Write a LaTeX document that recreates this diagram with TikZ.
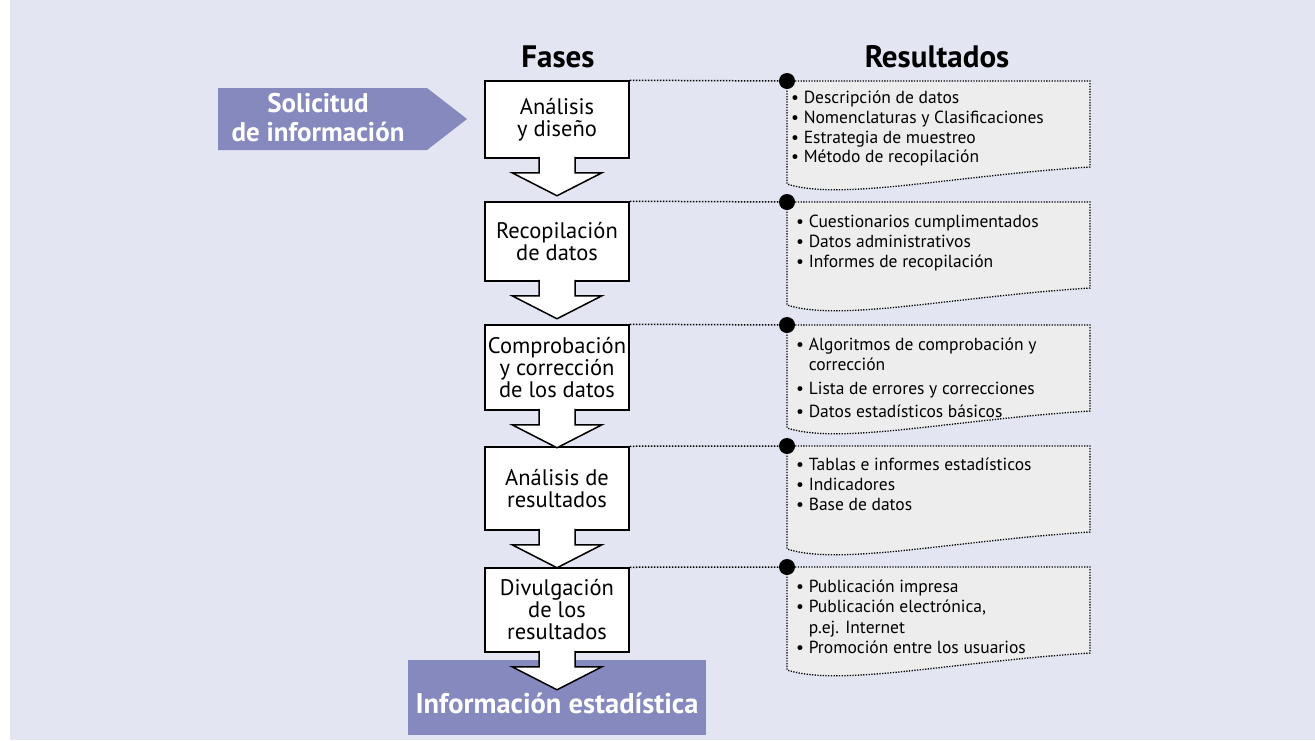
\documentclass[tikz,border=0pt]{standalone}
\usepackage{fontspec}
\setmainfont{PT Sans}
\usepackage{tikz}
\usetikzlibrary{positioning,calc}
\definecolor{fondo}{HTML}{E3E5F2}
\definecolor{azul}{HTML}{8589BE}
\definecolor{hojagris}{HTML}{EDEDED}
\tikzstyle{fase} = [draw, line width=1.5pt, fill=white, minimum width=144, align=center, inner sep=1pt, font=\fontsize{22.5}{22}\selectfont]
\tikzstyle{flecha} = [draw, line width=1.5pt, fill=white, line join=miter]
\tikzstyle{hoja} = [draw, dash pattern=on 1.3pt off 1.4pt, line width=1.3pt, fill=hojagris]
\tikzstyle{enlace} = [dash pattern=on 1.5pt off 1.5pt, line width=1.5pt]
\tikzstyle{punto} = [circle, fill=black, minimum size=16, inner sep=0pt]
\tikzstyle{lista} = [anchor=north west, align=left, inner sep=0pt, font=\fontsize{17.5}{19.7}\selectfont]
\tikzstyle{titulo} = [font=\fontsize{31}{34}\selectfont\bfseries]
\tikzstyle{azulbox} = [fill=azul, text=white, minimum width=298, minimum height=75, text height=36pt, text depth=4pt, font=\fontsize{28.5}{30}\selectfont\bfseries]

\begin{document}
\begin{tikzpicture}[x=1pt, y=-1pt]
        \useasboundingbox (0,0) rectangle (1315,740);
        \fill[fondo] (10,0) rectangle (1315,740);

        % Entrada y salida
        \fill[azul] (218,88) -- (427,88) -- (467,119) -- (427,150) -- (218,150) -- cycle;
        \node[text=white, align=center, font=\fontsize{27}{29}\selectfont\bfseries] (sol) at (318,118) {Solicitud\\de información};
        \node[azulbox] (info) at (557,697) {Información estadística};

        % Fases
        \node[fase, minimum height=77] (F1) at (557,119.5) {Análisis\\y diseño};
        \node[fase, minimum height=79] (F2) at (557,241.5) {Recopilación\\de datos};
        \node[fase, minimum height=85] (F3) at (557,367.5) {Comprobación\\y corrección\\de los datos};
        \node[fase, minimum height=83] (F4) at (557,488.5) {Análisis de\\resultados};
        \node[fase, minimum height=84] (F5) at (557,610) {Divulgación\\de los\\resultados};

        \foreach \i in {1,...,5}
          \draw[flecha] (F\i.south) ++(-18,-2) -- ++(0,16) -- ++(-27,0) -- ++(45,23) -- ++(45,-23) -- ++(-27,0) -- ++(0,-16);

        % Resultados
        \foreach \i/\t in {1/81,2/202,3/325,4/446,5/567}{
          \draw[hoja] (787,\t) -- (1090,\t) -- (1090,\t+86) .. controls (950,\t+95) and (840,\t+120) .. (787,\t+103) -- cycle;
          \node[punto] (D\i) at (787,\t) {};
          \draw[enlace] (F\i.north east) -- (D\i);
        }

        \node[lista] (R1) at (791,91) {\textbullet\ Descripción de datos\\\textbullet\ Nomenclaturas y Clasificaciones\\\textbullet\ Estrategia de muestreo\\\textbullet\ Método de recopilación};
        \node[lista] (R2) at (796,215) {\textbullet\ Cuestionarios cumplimentados\\\textbullet\ Datos administrativos\\\textbullet\ Informes de recopilación};
        \node[lista] (R3) at (796,338) {\textbullet\ Algoritmos de comprobación y\\\phantom{\textbullet\ }corrección\\[4pt]\textbullet\ Lista de errores y correcciones\\[4pt]\textbullet\ Datos estadísticos básicos};
        \node[lista] (R4) at (796,458) {\textbullet\ Tablas e informes estadísticos\\\textbullet\ Indicadores\\\textbullet\ Base de datos};
        \node[lista] (R5) at (796,580) {\textbullet\ Publicación impresa\\\textbullet\ Publicación electrónica,\\[1pt]\phantom{\textbullet\ }p.ej. Internet\\[1pt]\textbullet\ Promoción entre los usuarios};

        % Cabeceras
        \node[titulo] (fases) at (558,57) {Fases};
        \node[titulo] (resul) at (937,57) {Resultados};

      \end{tikzpicture}
\end{document}
